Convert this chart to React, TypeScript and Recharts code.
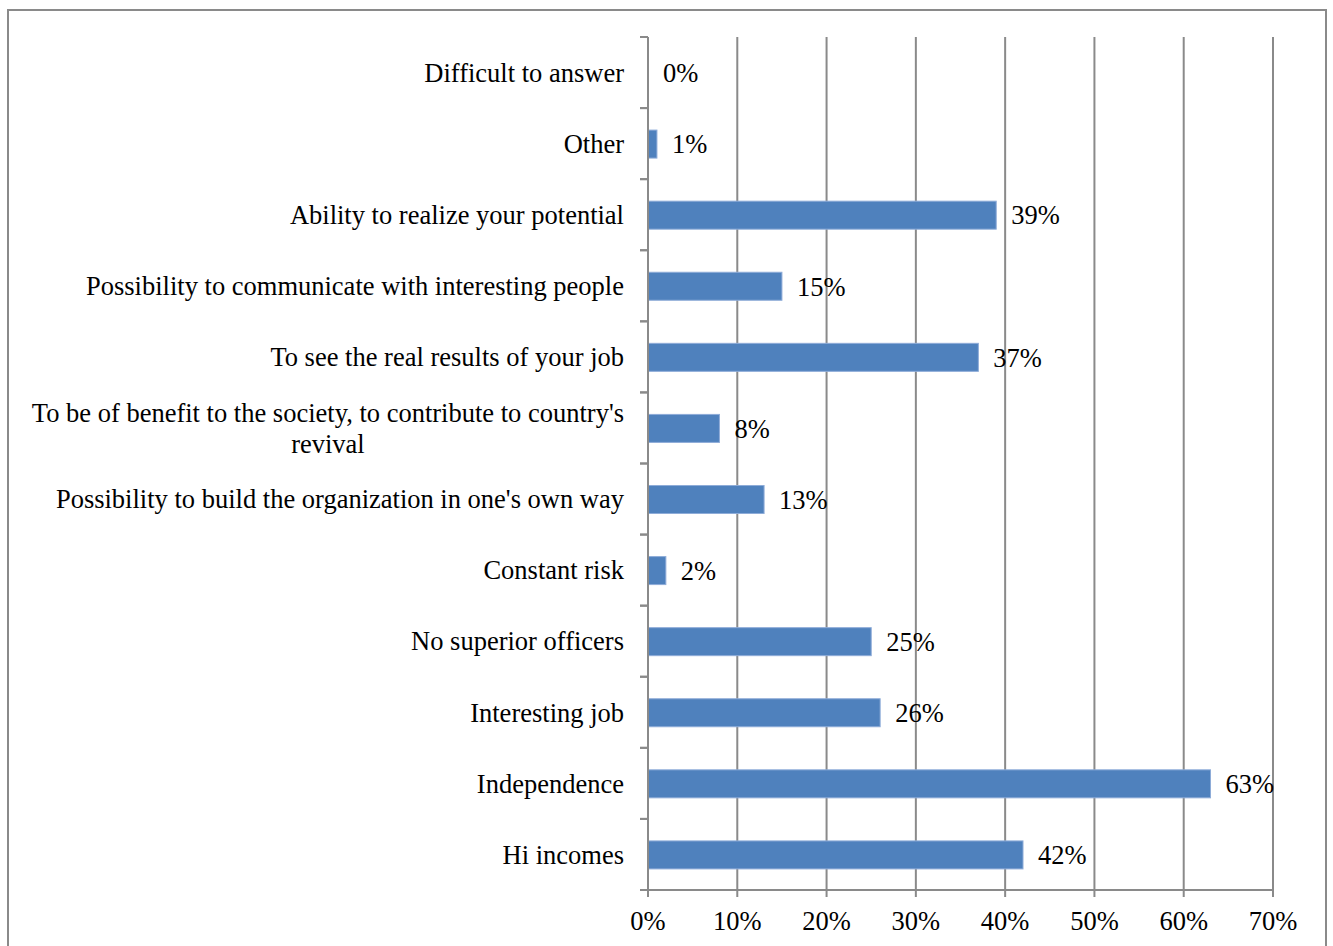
import React from 'react';
import { BarChart, Bar, CartesianGrid, XAxis, YAxis } from 'recharts';

// survey answers, top to bottom as in the chart
const categories = [
    'Difficult to answer',
    'Other',
    'Ability to realize your potential',
    'Possibility to communicate with interesting people',
    'To see the real results of your job',
    "To be of benefit to the society, to contribute to country's revival",
    "Possibility to build the organization in one's own way",
    'Constant risk',
    'No superior officers',
    'Interesting job',
    'Independence',
    'Hi incomes',
];

const shares = [0, 1, 39, 15, 37, 8, 13, 2, 25, 26, 63, 42];

const xTicks = [0, 10, 20, 30, 40, 50, 60, 70];

const data = categories.map((name, i) => ({ name, value: shares[i] }));

const FONT = "'Liberation Serif', 'Times New Roman', serif";
const FONT_SIZE = 26.5;
const GRID = '#8a8a8a';
const BLUE = '#4F81BD';

const W = 1333;
const H = 946;
const M = { top: 37, right: 60, bottom: 16, left: 0 };
const X_AXIS_H = 40;
const Y_AXIS_W = 648;
const BAND = (H - M.top - M.bottom - X_AXIS_H) / categories.length;

let ctx: CanvasRenderingContext2D | null = null;
const measure = (s: string) => {
    if (!ctx) {
        ctx = document.createElement('canvas').getContext('2d');
    }
    if (!ctx) return s.length * FONT_SIZE * 0.45;
    ctx.font = `${FONT_SIZE}px ${FONT}`;
    return ctx.measureText(s).width;
};

const wrap = (s: string, maxW: number) => {
    const words = s.split(' ');
    const lines: string[] = [];
    let cur = '';
    words.forEach(w => {
        const next = cur ? cur + ' ' + w : w;
        if (cur && measure(next) > maxW) {
            lines.push(cur);
            cur = w;
        } else {
            cur = next;
        }
    });
    if (cur) lines.push(cur);
    return lines;
};

const CategoryTick = (props: any) => {
    const { x, y, payload } = props;
    const half = BAND / 2;
    const lines = wrap(String(payload.value), 605);
    const right = x - 24;
    const lh = 31;
    let content;
    if (lines.length === 1) {
        content = (
            <text x={right} y={y} dy="0.35em" textAnchor="end" fontFamily={FONT} fontSize={FONT_SIZE} fill="#000">
                {lines[0]}
            </text>
        );
    } else {
        const blockW = Math.max(...lines.map(measure));
        const cx = right - blockW / 2;
        const y0 = y - ((lines.length - 1) * lh) / 2;
        content = (
            <text textAnchor="middle" fontFamily={FONT} fontSize={FONT_SIZE} fill="#000">
                {lines.map((l, i) => (
                    <tspan key={i} x={cx} y={y0 + i * lh} dy="0.35em">{l}</tspan>
                ))}
            </text>
        );
    }
    return (
        <g>
            <line x1={x - 8} x2={x} y1={y - half} y2={y - half} stroke={GRID} strokeWidth={2} />
            <line x1={x - 8} x2={x} y1={y + half} y2={y + half} stroke={GRID} strokeWidth={2} />
            {content}
        </g>
    );
};

// bar plus its value label, so that the 0% row keeps its label too
const BarWithLabel = (props: any) => {
    const { x, y, width, height, value } = props;
    const v = Array.isArray(value) ? value[1] - value[0] : value;
    return (
        <g>
            {width > 0 && (
                <rect x={x} y={y} width={width} height={height} fill={BLUE} stroke="#8EACD8" strokeWidth={1} />
            )}
            <text
                x={x + width + 15}
                y={y + height / 2}
                dy="0.35em"
                fontFamily={FONT}
                fontSize={FONT_SIZE}
                fill="#000"
            >
                {`${v}%`}
            </text>
        </g>
    );
};

export default function App() {
    return (
        <div style={{ position: 'absolute', left: 0, top: 0, width: W, height: H, background: '#fff', overflow: 'hidden' }}>
            <div
                style={{
                    position: 'absolute',
                    left: 7,
                    top: 9,
                    width: 1320,
                    height: 980,
                    border: `2px solid ${GRID}`,
                    boxSizing: 'border-box',
                }}
            />
            <div style={{ position: 'absolute', left: 0, top: 0 }}>
                <BarChart width={W} height={H} data={data} layout="vertical" margin={M}>
                    <CartesianGrid horizontal={false} stroke={GRID} strokeWidth={2} />
                    <XAxis
                        type="number"
                        domain={[0, 70]}
                        ticks={xTicks}
                        interval={0}
                        height={X_AXIS_H}
                        tickFormatter={(v: number) => `${v}%`}
                        axisLine={{ stroke: GRID, strokeWidth: 2 }}
                        tickLine={{ stroke: GRID, strokeWidth: 2 }}
                        tickSize={7}
                        tickMargin={14}
                        tick={{ fontFamily: FONT, fontSize: FONT_SIZE, fill: '#000' }}
                    />
                    <YAxis
                        type="category"
                        dataKey="name"
                        width={Y_AXIS_W}
                        interval={0}
                        tickLine={false}
                        tickSize={0}
                        tickMargin={0}
                        axisLine={{ stroke: GRID, strokeWidth: 2 }}
                        tick={<CategoryTick />}
                    />
                    <Bar
                        dataKey="value"
                        fill={BLUE}
                        barSize={28}
                        shape={<BarWithLabel />}
                        isAnimationActive={false}
                    />
                </BarChart>
            </div>
        </div>
    );
}
